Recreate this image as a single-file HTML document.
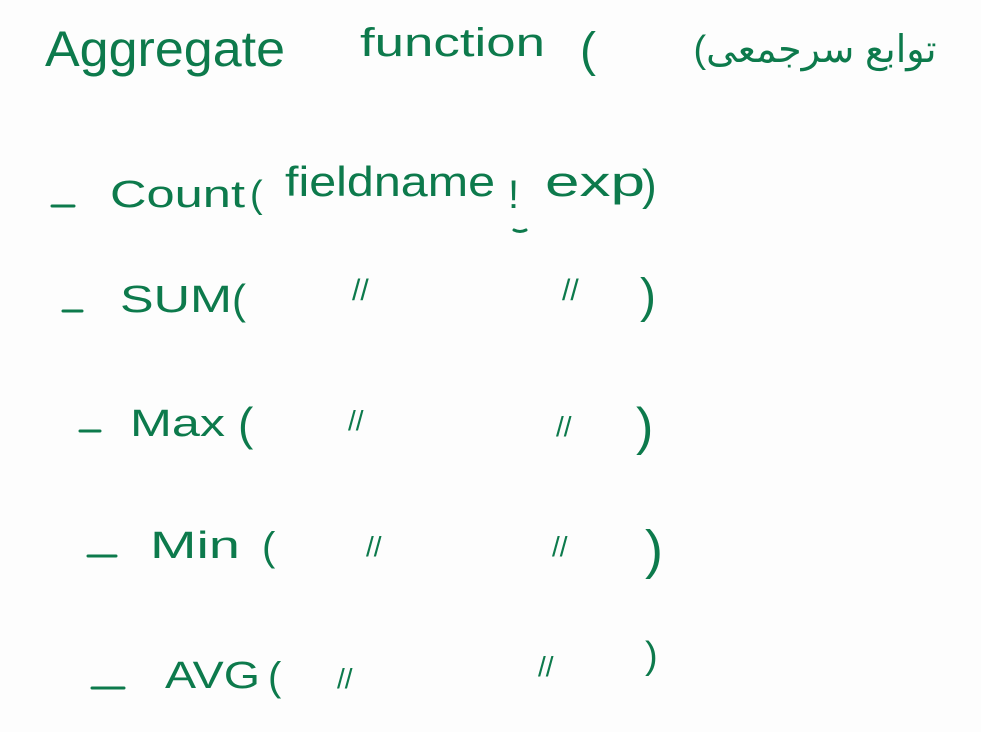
<!DOCTYPE html>
<html>
<head>
<meta charset="utf-8">
<style>
  html,body{margin:0;padding:0;background:#fdfdfd;}
  svg{display:block;}
  text{font-family:"Liberation Sans","DejaVu Sans",sans-serif;fill:#0d7a4c;}
</style>
</head>
<body>
<svg width="981" height="732" viewBox="0 0 981 732" xmlns="http://www.w3.org/2000/svg">
  <rect width="981" height="732" fill="#fdfdfd"/>
  <!-- Title -->
  <text x="45" y="66" font-size="50" textLength="240" lengthAdjust="spacingAndGlyphs">Aggregate</text>
  <text x="360" y="56" font-size="40" textLength="185" lengthAdjust="spacingAndGlyphs">function</text>
  <text x="580" y="66" font-size="48">(</text>
  <text x="815" y="62" font-size="38" text-anchor="middle" font-family="DejaVu Sans">(توابع سرجمعی</text>

  <g stroke="#0d7a4c" stroke-width="3" stroke-linecap="round" fill="none">
    <line x1="52" y1="206" x2="74" y2="206"/>
    <line x1="63" y1="311" x2="82" y2="311"/>
    <line x1="80" y1="431" x2="100" y2="431"/>
    <line x1="88" y1="556" x2="116" y2="556"/>
    <line x1="92" y1="688" x2="124" y2="688"/>
    <path d="M514 230 q6 3 12 0"/>
  </g>

  <!-- Count -->
  <text x="110" y="207" font-size="38" textLength="135" lengthAdjust="spacingAndGlyphs">Count</text>
  <text x="250" y="207" font-size="38">(</text>
  <text x="285" y="196" font-size="42" textLength="210" lengthAdjust="spacingAndGlyphs">fieldname</text>
  <text x="508" y="208" font-size="40">!</text>
  <text x="545" y="196" font-size="42" textLength="100" lengthAdjust="spacingAndGlyphs">exp</text>
  <text x="642" y="200" font-size="44">)</text>

  <!-- SUM -->
  <text x="120" y="312" font-size="38" textLength="112" lengthAdjust="spacingAndGlyphs">SUM</text>
  <text x="232" y="314" font-size="42">(</text>
  <text x="352" y="300" font-size="30">//</text>
  <text x="562" y="300" font-size="30">//</text>
  <text x="640" y="312" font-size="48">)</text>

  <!-- Max -->
  <text x="130" y="436" font-size="38" textLength="95" lengthAdjust="spacingAndGlyphs">Max</text>
  <text x="238" y="440" font-size="46">(</text>
  <text x="348" y="430" font-size="28">//</text>
  <text x="556" y="436" font-size="28">//</text>
  <text x="636" y="444" font-size="52">)</text>

  <!-- Min -->
  <text x="150" y="558" font-size="38" textLength="90" lengthAdjust="spacingAndGlyphs">Min</text>
  <text x="262" y="560" font-size="40">(</text>
  <text x="366" y="556" font-size="28">//</text>
  <text x="552" y="556" font-size="28">//</text>
  <text x="645" y="568" font-size="54">)</text>

  <!-- AVG -->
  <text x="165" y="688" font-size="38" textLength="95" lengthAdjust="spacingAndGlyphs">AVG</text>
  <text x="268" y="690" font-size="40">(</text>
  <text x="337" y="688" font-size="28">//</text>
  <text x="538" y="676" font-size="28">//</text>
  <text x="645" y="668" font-size="38">)</text>
</svg>
</body>
</html>
